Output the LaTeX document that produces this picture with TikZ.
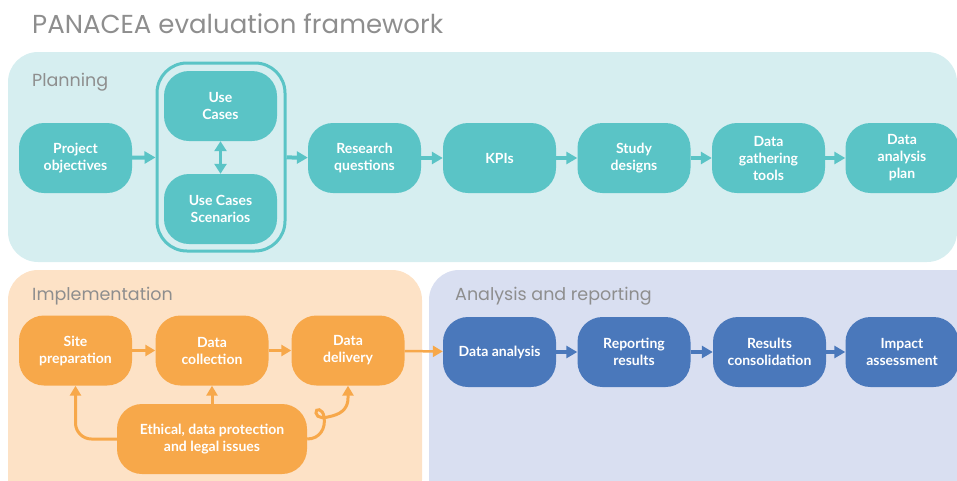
\documentclass[tikz,border=0pt]{standalone}
\usepackage{fontspec}
\setmainfont{Lato}
\newfontfamily\headfont{Poppins}
\usetikzlibrary{arrows.meta}

\definecolor{planbg}{HTML}{D6EEF0}
\definecolor{implbg}{HTML}{FDE2C6}
\definecolor{anabg}{HTML}{D9DFF1}
\definecolor{tealbox}{HTML}{5AC4C6}
\definecolor{orangebox}{HTML}{F7A84A}
\definecolor{bluebox}{HTML}{4A78BB}
\definecolor{headgray}{HTML}{8E8E8E}

\tikzset{
  stagebox/.style={rounded corners=25pt, minimum width=113pt, minimum height=70pt,
    inner sep=0pt, text=white, align=center,
    font=\bfseries\fontsize{14}{17}\selectfont},
  planbox/.style={stagebox, fill=tealbox},
  implbox/.style={stagebox, fill=orangebox},
  anabox/.style={stagebox, fill=bluebox},
  panel/.style={rounded corners=30pt},
  panellabel/.style={anchor=base west, inner sep=0pt, text=headgray,
    font=\headfont\fontsize{17.5}{20}\selectfont},
  tarrow/.style={draw=tealbox, line width=4pt, -{Triangle[length=11pt,width=12pt]}},
  barrow/.style={draw=bluebox, line width=4pt, -{Triangle[length=11pt,width=12pt]}},
  oarrow/.style={draw=orangebox, line width=3pt, -{Triangle[length=10pt,width=11pt]}},
}

\begin{document}
\begin{tikzpicture}[x=1pt, y=-1pt]
  \useasboundingbox (0,0) rectangle (957,480);
  \clip (0,0) rectangle (957,480);

  % title
  \node[anchor=base west, inner sep=0pt, text=headgray,
        font=\headfont\fontsize{26}{31}\selectfont] (title) at (32,33)
        {PANACEA evaluation framework};

  % stage panels
  \fill[planbg, panel] (8,52) rectangle (957,262);
  \fill[implbg, panel] (8,270) rectangle (422,510);
  \fill[anabg, panel]  (429,270) rectangle (990,510);

  \node[panellabel] (lplan) at (32,86) {Planning};
  \node[panellabel] (limpl) at (32,300) {Implementation};
  \node[panellabel] (lana)  at (455,300) {Analysis and reporting};

  % planning
  \node[draw=tealbox, line width=3pt, fill=planbg, rounded corners=30pt,
        minimum width=128pt, minimum height=188pt, inner sep=0pt] (grp) at (221,157) {};
  \node[planbox] (po)  at (75.5,158) {Project\\objectives};
  \node[planbox] (uc)  at (220.5,106) {Use\\Cases};
  \node[planbox] (ucs) at (220.5,209) {Use Cases\\Scenarios};
  \node[planbox] (rq)  at (364.5,158) {Research\\questions};
  \node[planbox] (kpi) at (499.5,158) {KPIs};
  \node[planbox] (sd)  at (634,158) {Study\\designs};
  \node[planbox] (dgt) at (768.5,158) {Data\\gathering\\tools};
  \node[planbox] (dap) at (902,158) {Data\\analysis\\plan};

  \draw[tarrow] (po) -- (grp);
  \draw[draw=tealbox, line width=3.5pt,
        {Triangle[length=10pt,width=12pt]}-{Triangle[length=10pt,width=12pt]}]
        (uc) -- (ucs);
  \draw[tarrow] (grp) -- (rq);
  \draw[tarrow] (rq) -- (kpi);
  \draw[tarrow] (kpi) -- (sd);
  \draw[tarrow] (sd) -- (dgt);
  \draw[tarrow] (dgt) -- (dap);

  % implementation
  \node[implbox] (site) at (75.5,350.5) {Site\\preparation};
  \node[implbox] (coll) at (212,350.5) {Data\\collection};
  \node[implbox] (deli) at (348,350.5) {Data\\delivery};
  \node[implbox, minimum width=190pt] (eth) at (212,439) {Ethical, data protection\\and legal issues};

  \draw[oarrow] (site) -- (coll);
  \draw[oarrow] (coll) -- (deli);
  \draw[oarrow, rounded corners=16pt] (eth.west) -| (site.south);
  \draw[oarrow] (eth.north) -- (coll.south);
  \draw[oarrow] (eth.east) .. controls (320,439) and (326,428) .. (324,417)
        .. controls (323,408) and (315,408) .. (316,413)
        .. controls (317,419) and (325,418) .. (332,416)
        .. controls (344,413) and (348,406) .. (348,398)
        -- (deli.south);

  % analysis and reporting
  \node[anabox] (da)  at (499.5,352) {Data analysis};
  \node[anabox] (rr)  at (634,352) {Reporting\\results};
  \node[anabox] (rc)  at (769.5,352) {Results\\consolidation};
  \node[anabox] (ia)  at (902,352) {Impact\\assessment};

  \draw[draw=orangebox, line width=2.5pt, -{Triangle[length=10pt,width=11pt]}] (deli) -- (da);
  \draw[barrow] (da) -- (rr);
  \draw[barrow] (rr) -- (rc);
  \draw[barrow] (rc) -- (ia);
\end{tikzpicture}
\end{document}
